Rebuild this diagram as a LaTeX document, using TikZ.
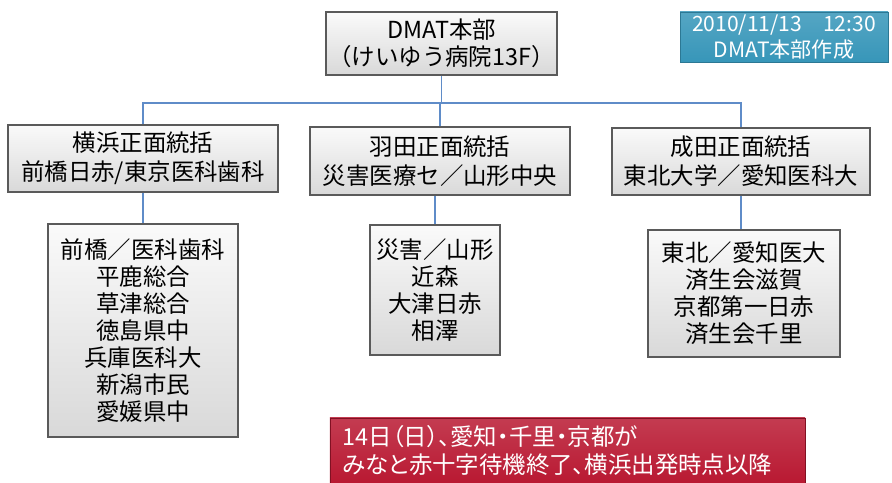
\documentclass[tikz,border=0pt]{standalone}
\usepackage{fontspec}
\setmainfont{Noto Sans CJK JP}
\usepackage{tikz}
\usetikzlibrary{positioning}
\usetikzlibrary{calc}
\definecolor{linkblue}{RGB}{95,140,200}
\definecolor{datecol}{RGB}{55,150,185}
\definecolor{notered}{RGB}{185,25,50}
\definecolor{boxline}{RGB}{90,90,90}

\tikzset{
  orgbox/.style={draw=boxline,line width=1pt,top color=gray!4,bottom color=gray!30,
    align=center,inner sep=2pt,font=\fontsize{20}{23}\selectfont},
  datebox/.style={draw=datecol!80!black,top color=datecol!85,bottom color=datecol,text=white,align=center,inner sep=2pt,
    font=\fontsize{18}{22}\selectfont},
  notebox/.style={draw=notered!70!black,top color=notered!85,bottom color=notered,
    text=white,align=left,inner xsep=10pt,inner ysep=2pt,font=\fontsize{20}{24}\selectfont\addfontfeatures{RawFeature=+palt}},
  link/.style={draw=linkblue,line width=1pt}
}

\begin{document}
\begin{tikzpicture}[x=0.03cm,y=-0.03cm]
\useasboundingbox (0,0) rectangle (892,483);
% head office
\node[orgbox,minimum width=6.45cm,minimum height=1.89cm] (hq) at (441.5,43.5) {DMAT本部\\（けいゆう病院13F）};
\node[datebox,minimum width=6.24cm,minimum height=1.5cm] (date) at (784,37) {2010/11/13\quad 12:30\\DMAT本部作成};
% front leaders
\node[orgbox,minimum width=8.1cm,minimum height=2.01cm,font=\fontsize{20}{25}\selectfont] (yokohama) at (143,158.5) {横浜正面統括\\前橋日赤/東京医科歯科};
\node[orgbox,minimum width=7.8cm,minimum height=2.04cm,font=\fontsize{20}{25}\selectfont] (haneda) at (440,161) {羽田正面統括\\災害医療セ／山形中央};
\node[orgbox,minimum width=7.74cm,minimum height=2.01cm,font=\fontsize{20}{25}\selectfont] (narita) at (741,161.5) {成田正面統括\\東北大学／愛知医科大};
% teams
\node[orgbox,minimum width=5.7cm,minimum height=6.39cm] (yteams) at (143,330.5) {前橋／医科歯科\\平鹿総合\\草津総合\\徳島県中\\兵庫医科大\\新潟市民\\愛媛県中};
\node[orgbox,minimum width=3.9cm,minimum height=3.9cm] (hteams) at (435,290) {災害／山形\\近森\\大津日赤\\相澤};
\node[orgbox,minimum width=5.76cm,minimum height=3.81cm] (nteams) at (744,293.5) {東北／愛知医大\\済生会滋賀\\京都第一日赤\\済生会千里};
% note
\node[notebox,minimum width=14.25cm,minimum height=1.95cm,text width=13.5cm] (note) at (567.5,450.5) {14日（日）、愛知・千里・京都が\\みなと赤十字待機終了、横浜出発時点以降};
% connectors
\coordinate (bus) at (0,103);
\draw[link] (hq.south) -- (hq.south |- bus);
\draw[link] (yokohama.north) |- (bus -| hq.south) -| (narita.north);
\draw[link] (haneda.north) -- (haneda.north |- bus);
\draw[link] (yokohama.south) -- (yokohama.south |- yteams.north);
\draw[link] (hteams.north) -- (hteams.north |- haneda.south);
\draw[link] (narita.south) -- (narita.south |- nteams.north);
\end{tikzpicture}
\end{document}
